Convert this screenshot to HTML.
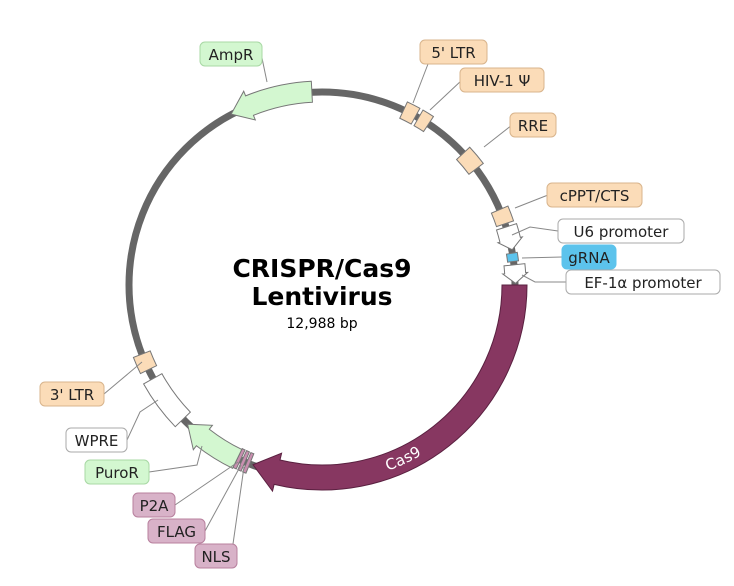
<!DOCTYPE html>
<html><head><meta charset="utf-8"><style>
body{margin:0;background:#fff}
svg{display:block;font-family:"DejaVu Sans","Liberation Sans",sans-serif}
</style></head><body>
<svg id="map" width="734" height="586" viewBox="0 0 734 586">
<g id="ring"></g><g id="feats"></g><g id="leaders"></g><g id="labels"></g>
<text x="322" y="277" text-anchor="middle" font-size="25" font-weight="bold">CRISPR/Cas9</text>
<text x="322" y="305" text-anchor="middle" font-size="25" font-weight="bold">Lentivirus</text>
<text x="322" y="328" text-anchor="middle" font-size="14">12,988 bp</text>
</svg>
<script>
const featNames=["AmpR","5' LTR","HIV-1 Ψ","RRE","cPPT/CTS","U6 promoter","gRNA","EF-1α promoter","Cas9","NLS","FLAG","P2A","PuroR","WPRE","3' LTR"];
const featStart=[332,25,30,47,67,72.5,80.5,84,90,202,203.5,205,206,226,244];
const featEnd=[357,29,33.5,53,71.5,79.5,83,89.5,201,203,204.5,206,224,241,249];
const featDir=[-1,0,0,0,0,1,0,1,1,0,0,0,1,0,0];
const featType=["marker","ltr","ltr","ltr","ltr","prom","grna","prom","cas","tag","tag","tag","marker","wpre","ltr"];
const cx=322,cy=285,R=193,NS="http://www.w3.org/2000/svg";
const styles={marker:["#d3f7d0",183,204],ltr:["#fbdcb8",184,202],prom:["#ffffff",183,204],grna:["#5cc3ec",187,198],cas:["#873761",180,205],tag:["#c98fb0",182,203],wpre:["#ffffff",183,204]};
function P(a,r){const t=a*Math.PI/180;return[(cx+r*Math.sin(t)).toFixed(2),(cy-r*Math.cos(t)).toFixed(2)];}
function arc(a0,a1,r,sw){const l=Math.abs(a1-a0)>180?1:0;return `A${r} ${r} 0 ${l} ${sw} ${P(a1,r).join(' ')}`;}
function mk(tag,at,parent){const e=document.createElementNS(NS,tag);for(const k in at)e.setAttribute(k,at[k]);parent.appendChild(e);return e;}
const ring=mk('circle',{cx:cx,cy:cy,r:R,fill:'none',stroke:'#666','stroke-width':7},document.getElementById('ring'));


const fg=document.getElementById('feats');
featNames.forEach((n,i)=>{
  const [fill,ri,ro]=styles[featType[i]];let a0=featStart[i],a1=featEnd[i],d=featDir[i],rm=(ri+ro)/2;
  let p;
  if(d===0){p=`M${P(a0,ro).join(' ')}${arc(a0,a1,ro,1)}L${P(a1,ri).join(' ')}${arc(a1,a0,ri,0)}Z`;}
  else{
    const ty=featType[i];
    const h=ty==='cas'?7.5:(ty==='prom'?3:6),f=ty==='cas'?7:(ty==='prom'?2:5);
    if(d===1){const b=a1-h;p=`M${P(a0,ro).join(' ')}${arc(a0,b,ro,1)}L${P(b,ro+f).join(' ')}L${P(a1,rm).join(' ')}L${P(b,ri-f).join(' ')}L${P(b,ri).join(' ')}${arc(b,a0,ri,0)}Z`;}
    else{const b=a0+h;p=`M${P(a1,ro).join(' ')}${arc(a1,b,ro,0)}L${P(b,ro+f).join(' ')}L${P(a0,rm).join(' ')}L${P(b,ri-f).join(' ')}L${P(b,ri).join(' ')}${arc(b,a1,ri,1)}Z`;}
  }
  const e=mk('path',{d:p,fill:fill,stroke:featType[i]==='cas'?'#5a2040':'#777','stroke-width':1},fg);
  
  
});
const tp=mk('path',{id:'casArc',d:`M${P(185,192).join(' ')}${arc(185,125,192,0)}`,fill:'none'},fg);
const ct=mk('text',{'font-size':15,fill:'#fff',dy:5},fg);


const tpe=mk('textPath',{href:'#casArc',startOffset:'50%','text-anchor':'middle'},ct);tpe.textContent='Cas9';
const labText=["AmpR","5' LTR","HIV-1 Ψ","RRE","cPPT/CTS","U6 promoter","gRNA","EF-1α promoter","3' LTR","WPRE","PuroR","P2A","FLAG","NLS"];
const labBox=[[200,42,62],[420,40,67],[460,68,84],[510,113,46],[547,183,95],[558,219,126],[562,245,54],[566,270,154],[40,382,64],[66,428,61],[85,460,64],[133,493,42],[148,519,57],[195,544,42]];
const labFill=[["#d3f7d0","#a8d8a4"],["#fbdcb8","#d8b48c"],["#fbdcb8","#d8b48c"],["#fbdcb8","#d8b48c"],["#fbdcb8","#d8b48c"],["#fff","#aaa"],["#5cc3ec","#5cc3ec"],["#fff","#aaa"],["#fbdcb8","#d8b48c"],["#fff","#aaa"],["#d3f7d0","#a8d8a4"],["#d8b2c8","#b8809e"],["#d8b2c8","#b8809e"],["#d8b2c8","#b8809e"]];
const lead=[[[267,82],[262,58]],[[413,103],[428,64]],[[430,110],[462,80]],[[484,147],[512,125]],[[515,208],[548,195]],[[512,235],[530,227],[558,231]],[[522,258],[562,257]],[[522,275],[535,282],[566,282]],[[142,362],[104,394]],[[158,400],[140,412],[127,440]],[[202,446],[197,465],[149,472]],[[238,462],[175,505]],[[241,465],[205,531]],[[244,467],[233,544]]];
const lg=document.getElementById('leaders'),lb=document.getElementById('labels');
labText.forEach((t,i)=>{
  const l=mk('polyline',{points:lead[i].map(q=>q.join(',')).join(' '),fill:'none',stroke:'#888','stroke-width':1},lg);
  
  
  const [x,y,w]=labBox[i];
  const g=mk('g',{},lb);
  
  
  mk('rect',{x:x,y:y,width:w,height:24,rx:5,fill:labFill[i][0],stroke:labFill[i][1],'stroke-width':1},g);
  const tx=mk('text',{x:x+w/2,y:y+18,'text-anchor':'middle','font-size':15,fill:'#222'},g);tx.textContent=t;
});
</script>
</body></html>
